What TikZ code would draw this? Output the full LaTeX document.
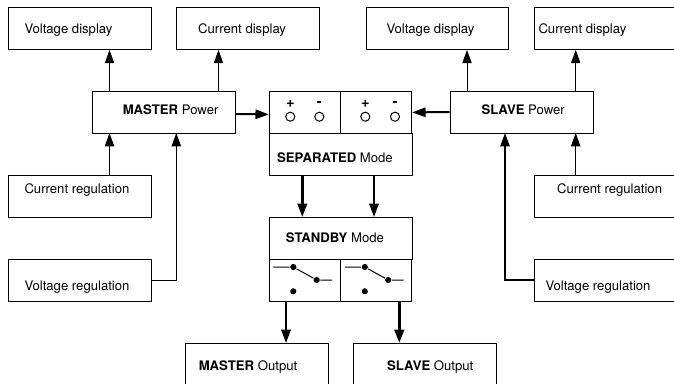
\documentclass[tikz,border=0pt]{standalone}
\usepackage{fontspec}
\setmainfont{TeX Gyre Heros}
\usetikzlibrary{arrows.meta}

\begin{document}
\begin{tikzpicture}[x=0.75pt,y=-0.75pt,line width=0.75pt,>={Triangle[length=10pt,width=7pt]},
  blk/.style={draw,inner sep=0pt,minimum width=107.2pt,minimum height=31.5pt},
  cell/.style={draw,inner sep=0pt,minimum width=53.4pt,minimum height=31.5pt},
  txt/.style={anchor=base west,inner sep=0pt,font=\fontsize{9.85}{12}\selectfont},
  term/.style={draw,circle,inner sep=0pt,minimum size=6.8pt},
  sign/.style={anchor=center,inner sep=0pt,font=\fontsize{11}{12}\selectfont\bfseries},
  dot/.style={fill,circle,inner sep=0pt,minimum size=4.6pt}]
  \useasboundingbox (0,0) rectangle (674,383);
  % bloques de la izquierda
  \node[blk] (vdispa) at (80,28.5){};
  \node[blk] (cdispa) at (248,28.5){};
  \node[blk] (powera) at (163.8,112){};
  \node[blk] (crega) at (80,196){};
  \node[blk] (vrega) at (80,280){};
  % bloques de la derecha
  \node[blk] (vdispb) at (437.5,28.5){};
  \node[blk] (cdispb) at (605.5,28.5){};
  \node[blk] (powerb) at (521.6,112){};
  \node[blk] (cregb) at (605.5,196){};
  \node[blk] (vregb) at (605.5,280){};
  % bloques centrales
  \node[cell] (sepa) at (304.9,112.4){};
  \node[cell] (sepb) at (376.1,112.4){};
  \node[blk] (sepm) at (340.6,154.4){};
  \node[blk] (stby) at (340.6,238){};
  \node[cell] (swa) at (304.9,280){};
  \node[cell] (swb) at (376.1,280){};
  % salidas (cortadas por el borde inferior)
  \node[blk] (outa) at (256.8,364){};
  \node[blk] (outb) at (424.8,364){};
  % textos
  \node[txt] (tvdispa) at (24,33){Voltage display};
  \node[txt] (tcdispa) at (197.7,33){Current display};
  \node[txt] (tpowera) at (122.3,114){\textbf{MASTER} Power};
  \node[txt] (tcrega) at (24,193.3){Current regulation};
  \node[txt] (tvrega) at (24,290){Voltage regulation};
  \node[txt] (tvdispb) at (386,33){Voltage display};
  \node[txt] (tcdispb) at (538,33){Current display};
  \node[txt] (tpowerb) at (481,114){\textbf{SLAVE} Power};
  \node[txt] (tcregb) at (556.7,193.3){Current regulation};
  \node[txt] (tvregb) at (545,290){Voltage regulation};
  \node[txt] (tsepm) at (276.7,162){\textbf{SEPARATED} Mode};
  \node[txt] (tstby) at (285.3,242){\textbf{STANDBY} Mode};
  \node[txt] (touta) at (198.3,370){\textbf{MASTER} Output};
  \node[txt] (toutb) at (386.7,370){\textbf{SLAVE} Output};
  % bornes
  \foreach \n/\x/\s in {pa/290.3/+,ma/319.3/-,pb/365.3/+,mb/395/-} {
    \node[term] (t\n) at (\x,116.7){};
    \node[sign] (s\n) at (\x,103.8){\s};
  }
  % interruptores
  \foreach \n/\x in {a/0,b/71.5} {
    \coordinate (in\n) at (273.3+\x,267);
    \coordinate (ex\n) at (332+\x,280);
    \node[dot] (da\n) at (293.3+\x,267){};
    \node[dot] (db\n) at (316.7+\x,280){};
    \node[dot] (dc\n) at (293.3+\x,291.3){};
    \draw (in\n) -- (da\n) -- (db\n) -- (ex\n);
  }
  % puntos de conexion
  \coordinate (vda) at (109.5,49.9);
  \coordinate (cda) at (218.5,49.9);
  \coordinate (pau) at (109.5,91);
  \coordinate (pav) at (218.5,91);
  \coordinate (pai) at (109.5,133);
  \coordinate (pag) at (176.3,133);
  \coordinate (vdb) at (467,49.9);
  \coordinate (cdb) at (575.7,49.9);
  \coordinate (pbu) at (467,91);
  \coordinate (pbv) at (575.7,91);
  \coordinate (pbi) at (575.7,133);
  \coordinate (pbg) at (505,133);
  \coordinate (sla) at (302.3,175.4);
  \coordinate (slb) at (374,175.4);
  \coordinate (sba) at (302.3,217);
  \coordinate (sbb) at (374,217);
  \coordinate (swo) at (286,301.5);
  \coordinate (swp) at (399.3,301.5);
  \coordinate (oua) at (286,343);
  \coordinate (oub) at (399.3,343);
  % flechas
  \draw[->] (pau) -- (vda);
  \draw[->] (pav) -- (cda);
  \draw[->] (pbu) -- (vdb);
  \draw[->] (pbv) -- (cdb);
  \draw[->] (pai |- crega.north) -- (pai);
  \draw[->] (pbi |- cregb.north) -- (pbi);
  \draw[->] (vrega.east) -| (pag);
  \draw[->,line width=1.2pt] (vregb.west) -| (pbg);
  \draw[->,line width=1.5pt] ([yshift=-1.5pt]powera.east) -- ([yshift=-1.5pt]sepa.west);
  \draw[->,line width=1.5pt] (powerb.west) -- (sepb.east);
  \draw[->,line width=1.9pt] (sla) -- (sba);
  \draw[->,line width=1.5pt] (slb) -- (sbb);
  \draw[->,line width=1.5pt] (swo) -- (oua);
  \draw[->,line width=2.2pt] (swp) -- (oub);
\end{tikzpicture}
\end{document}
